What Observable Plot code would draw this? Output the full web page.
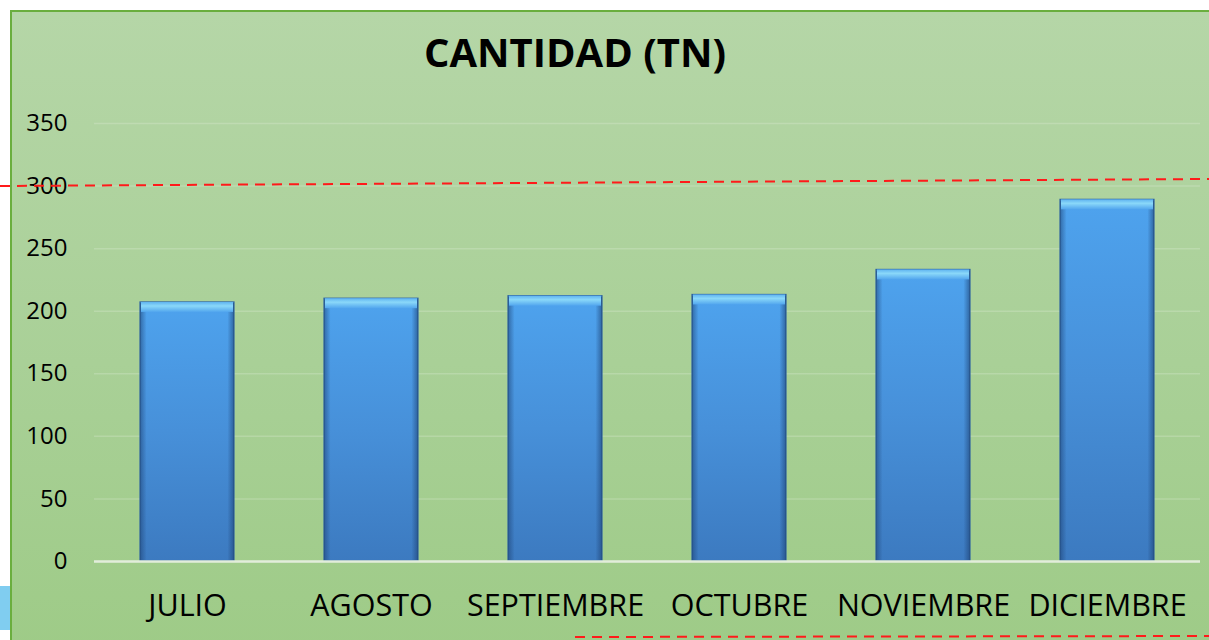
<!DOCTYPE html>
<html>
<head>
<meta charset="utf-8">
<script src="https://cdn.jsdelivr.net/npm/d3@7"></script>
<script src="https://cdn.jsdelivr.net/npm/@observablehq/plot@0.6"></script>
<style>
  html, body { margin: 0; padding: 0; background: #ffffff; }
  #wrap { position: relative; width: 1209px; height: 640px; overflow: hidden; background: #ffffff; font-family: "Open Sans", sans-serif; }
  #bluepiece { position: absolute; left: 0; top: 586px; width: 10px; height: 44px; background: #80cdf0; }
  #panel { position: absolute; left: 10px; top: 10px; width: 1210px; height: 640px; box-sizing: border-box;
           border-left: 2px solid #6aae3e; border-top: 2px solid #6aae3e;
           background: linear-gradient(to bottom, #b5d6a7 0%, #a9d097 55%, #9ecb87 100%); }
  #title { position: absolute; left: 0; width: 1150px; top: 24px; text-align: center; font-weight: 700; font-size: 40px; color: #000; line-height: 56px; }
  #chart { position: absolute; left: 0; top: 0; }
  #deco { position: absolute; left: 0; top: 0; pointer-events: none; }
</style>
</head>
<body>
<div id="wrap">
  <div id="bluepiece"></div>
  <div id="panel"></div>
  <div id="title">CANTIDAD (TN)</div>
  <div id="chart"></div>
  <svg id="deco" width="1209" height="640">
    <line x1="0" y1="186" x2="1209" y2="179" stroke="#ff1a1a" stroke-width="2" stroke-dasharray="10,7"/>
    <line x1="575" y1="637" x2="1209" y2="636" stroke="#ff1a1a" stroke-width="2" stroke-dasharray="10,7"/>
  </svg>
</div>
<script>
const months = ["JULIO", "AGOSTO", "SEPTIEMBRE", "OCTUBRE", "NOVIEMBRE", "DICIEMBRE"];
const cantidad = [207, 210, 212, 213, 233, 289];
const yTicks = [0, 50, 100, 150, 200, 250, 300, 350];

const data = months.map((m, i) => ({mes: m, valor: cantidad[i]}));

const chart = Plot.plot({
  width: 1209,
  height: 640,
  marginLeft: 94,
  marginRight: 9,
  marginTop: 123,
  marginBottom: 79,
  style: {background: "transparent", fontFamily: "Open Sans, sans-serif", color: "#000"},
  x: {domain: months, paddingInner: 0.49, paddingOuter: 0.245, label: null},
  y: {domain: [0, 350], label: null},
  marks: [
    Plot.gridY(yTicks, {stroke: "#ffffff", strokeOpacity: 0.18, strokeWidth: 1.5}),
    Plot.axisY(yTicks, {tickSize: 0, tickPadding: 27, fontSize: 24, label: null, fill: "#000"}),
    Plot.axisX({tickSize: 0, tickPadding: 33, fontSize: 30.5, label: null, fill: "#000"}),
    Plot.barY(data, {x: "mes", y: "valor", fill: "url(#barGrad)", stroke: "#2f64a0", strokeWidth: 1.2}),
    Plot.barY(data, {x: "mes", y: "valor", fill: "url(#edgeGrad)", insetTop: 1, insetBottom: 1}),
    Plot.barY(data, {x: "mes", y1: "valor", y2: "valor", insetBottom: -10, insetLeft: 1, insetRight: 1, fill: "url(#bevelGrad)"}),
    Plot.ruleY([0], {stroke: "#e2eddb", strokeWidth: 2.5})
  ]
});

const svg = d3.select(chart);
const defs = svg.insert("defs", ":first-child");
const g1 = defs.append("linearGradient").attr("id", "barGrad").attr("x1", 0).attr("y1", 0).attr("x2", 0).attr("y2", 1);
g1.append("stop").attr("offset", "0%").attr("stop-color", "#4ea3ee");
g1.append("stop").attr("offset", "50%").attr("stop-color", "#4790d9");
g1.append("stop").attr("offset", "100%").attr("stop-color", "#3c7ac0");
const g2 = defs.append("linearGradient").attr("id", "edgeGrad").attr("x1", 0).attr("y1", 0).attr("x2", 1).attr("y2", 0);
g2.append("stop").attr("offset", "0%").attr("stop-color", "#1c3f70").attr("stop-opacity", 0.55);
g2.append("stop").attr("offset", "7%").attr("stop-color", "#1c3f70").attr("stop-opacity", 0);
g2.append("stop").attr("offset", "93%").attr("stop-color", "#1c3f70").attr("stop-opacity", 0);
g2.append("stop").attr("offset", "100%").attr("stop-color", "#1c3f70").attr("stop-opacity", 0.6);
const g3 = defs.append("linearGradient").attr("id", "bevelGrad").attr("x1", 0).attr("y1", 0).attr("x2", 0).attr("y2", 1);
g3.append("stop").attr("offset", "0%").attr("stop-color", "#5fb3f0");
g3.append("stop").attr("offset", "40%").attr("stop-color", "#8ad8f9");
g3.append("stop").attr("offset", "100%").attr("stop-color", "#52a6ee");

document.getElementById("chart").appendChild(chart);
</script>
</body>
</html>
